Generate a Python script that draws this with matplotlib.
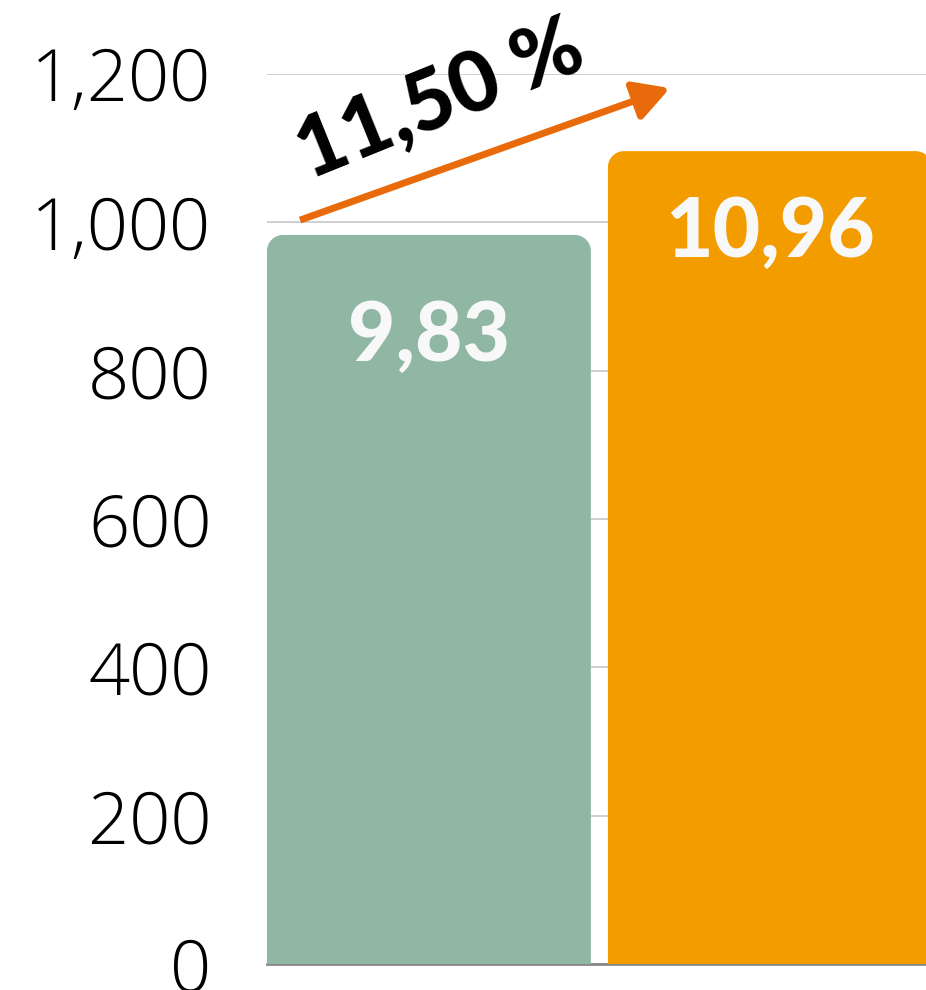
import matplotlib
matplotlib.use("Agg")
import matplotlib.pyplot as plt
from matplotlib.path import Path
from matplotlib.patches import PathPatch, FancyArrowPatch
from matplotlib.ticker import FuncFormatter

# ---- data ----
categories = ["A", "B"]
values = [983, 1096]
bar_labels = ["9,83", "10,96"]
bar_colors = ["#8fb7a4", "#f39c00"]
change_label = "11,50 %"
yticks = [0, 200, 400, 600, 800, 1000, 1200]
arrow_start = (-0.378, 1003)
arrow_end = (0.707, 1181)

W, H = 926, 990
fig = plt.figure(figsize=(W / 100, H / 100), dpi=100)
ax = fig.add_axes([267 / W, 1 - 964 / H, 1 - 267 / W, (964 - 74) / H])

x = list(range(len(categories)))
bars = ax.bar(x, values, width=0.95, color=bar_colors, zorder=2)
ax.set_xlim(-0.475, 1.458)
ax.set_ylim(0, 1200)

# convert a pixel distance into data units
xpix = ax.get_position().width * W / (1.458 + 0.475)
ypix = ax.get_position().height * H / 1200
r_px = 16
rx, ry = r_px / xpix, r_px / ypix
k = 0.5523

for b, c in zip(bars, bar_colors):
    x0 = b.get_x(); x1 = x0 + b.get_width(); y0 = 0; y1 = b.get_height()
    verts = [(x0, y0), (x0, y1 - ry),
             (x0, y1 - ry + k * ry), (x0 + rx - k * rx, y1), (x0 + rx, y1),
             (x1 - rx, y1),
             (x1 - rx + k * rx, y1), (x1, y1 - ry + k * ry), (x1, y1 - ry),
             (x1, y0), (x0, y0)]
    codes = [Path.MOVETO, Path.LINETO,
             Path.CURVE4, Path.CURVE4, Path.CURVE4,
             Path.LINETO,
             Path.CURVE4, Path.CURVE4, Path.CURVE4,
             Path.LINETO, Path.CLOSEPOLY]
    ax.add_patch(PathPatch(Path(verts, codes), facecolor=c, edgecolor="none", zorder=3))
    b.set_visible(False)

label_drop_px = [126, 106]
for b, lab, d in zip(bars, bar_labels, label_drop_px):
    ax.text(b.get_x() + b.get_width() / 2, b.get_height() - d / ypix, lab,
            ha="center", va="baseline", color="#f8f8f8", fontsize=59,
            fontweight="black", family=["Lato", "DejaVu Sans"], zorder=4)

ax.set_yticks(yticks)
ax.yaxis.set_major_formatter(FuncFormatter(lambda v, p: f"{int(v):,}"))
ax.tick_params(axis="y", length=0, pad=40, labelsize=52, labelcolor="#000000")
ax.tick_params(axis="x", length=0, labelbottom=False)
for lab in ax.get_yticklabels():
    lab.set_family(["Open Sans", "DejaVu Sans"])
    lab.set_fontweight("light")
ax.grid(axis="y", color="#cccccc", linewidth=1.3, zorder=0)
ax.set_axisbelow(True)
for s in ["left", "right", "top"]:
    ax.spines[s].set_visible(False)
ax.spines["bottom"].set_color("#888888")
ax.spines["bottom"].set_linewidth(2)
ax.spines["bottom"].set_zorder(1)

arr = FancyArrowPatch(arrow_start, arrow_end, arrowstyle="-|>,head_length=0.9,head_width=0.5",
                      mutation_scale=24, color="#e96a0a", linewidth=5, shrinkA=0, shrinkB=0,
                      joinstyle="round", capstyle="butt", zorder=5, clip_on=False)
ax.add_patch(arr)

ax.text(0.032, 1165, change_label, rotation=22, ha="center", va="center",
        fontsize=60, fontweight="black", family=["Lato", "DejaVu Sans"],
        color="#000000", zorder=6, rotation_mode="anchor", clip_on=False)

fig.savefig("out.png", dpi=100)
